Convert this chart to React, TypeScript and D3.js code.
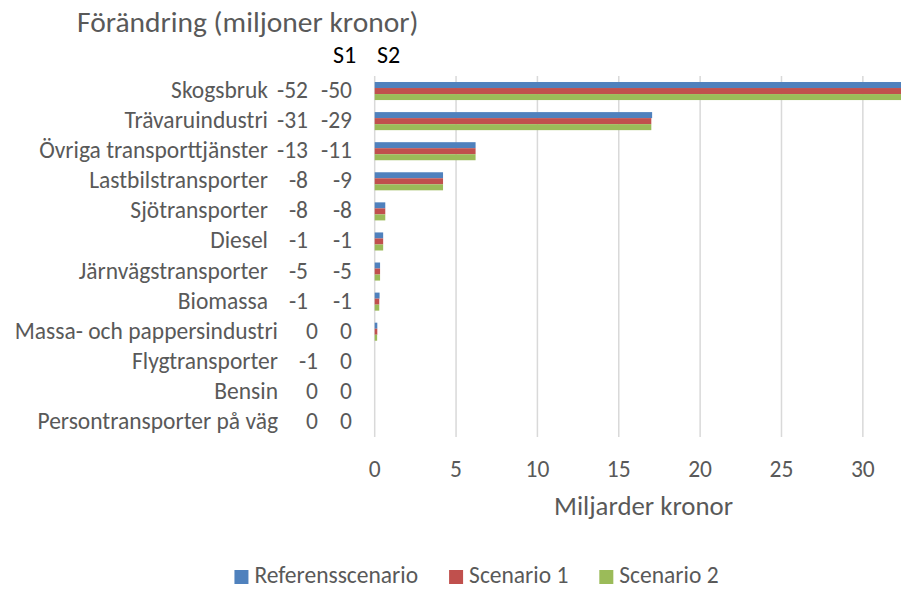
import React, { useRef, useEffect } from "react";
import * as d3 from "d3";

// kategorier och förändring (miljoner kronor) för S1 och S2
const categories = [
  "Skogsbruk",
  "Trävaruindustri",
  "Övriga transporttjänster",
  "Lastbilstransporter",
  "Sjötransporter",
  "Diesel",
  "Järnvägstransporter",
  "Biomassa",
  "Massa- och pappersindustri",
  "Flygtransporter",
  "Bensin",
  "Persontransporter på väg",
];
const changeS1 = [-52, -31, -13, -8, -8, -1, -5, -1, 0, -1, 0, 0];
const changeS2 = [-50, -29, -11, -9, -8, -1, -5, -1, 0, 0, 0, 0];

// miljarder kronor per scenario
const referens = [34, 17.05, 6.2, 4.2, 0.65, 0.52, 0.33, 0.3, 0.16, 0, 0, 0];
const scenario1 = [34, 17.0, 6.2, 4.2, 0.65, 0.52, 0.33, 0.28, 0.16, 0, 0, 0];
const scenario2 = [34, 17.0, 6.2, 4.2, 0.65, 0.52, 0.33, 0.28, 0.15, 0, 0, 0];

const seriesNames = ["Referensscenario", "Scenario 1", "Scenario 2"];
const seriesColors = ["#4F81BD", "#C0504D", "#9BBB59"];
const xTicks = [0, 5, 10, 15, 20, 25, 30, 35];

const FONT = "Carlito, Calibri, Lato, sans-serif";
const GREY = "#595959";

export default function App() {
  const svgRef = useRef<SVGSVGElement>(null);

  useEffect(() => {
    const svg = d3.select(svgRef.current);
    svg.selectAll("*").remove();

    const width = 901;
    const height = 589;
    const plot = { left: 374.7, right: 944.2, top: 76, bottom: 437 };

    const x = d3.scaleLinear().domain([0, 35]).range([plot.left, plot.right]);
    const y = d3
      .scaleBand<string>()
      .domain(categories)
      .range([plot.top, plot.bottom])
      .paddingInner(0.4)
      .paddingOuter(0.2);
    const sub = d3
      .scaleBand<number>()
      .domain([0, 1, 2])
      .range([0, y.bandwidth()]);

    const series = [referens, scenario1, scenario2];

    svg.attr("width", width).attr("height", height).style("font-family", FONT);

    // rutnät
    svg
      .append("g")
      .selectAll("line")
      .data(xTicks)
      .join("line")
      .attr("x1", (d) => x(d))
      .attr("x2", (d) => x(d))
      .attr("y1", plot.top)
      .attr("y2", plot.bottom)
      .attr("stroke", "#D9D9D9")
      .attr("stroke-width", 1.5);

    // staplar
    series.forEach((values, s) => {
      svg
        .append("g")
        .selectAll("rect")
        .data(values)
        .join("rect")
        .attr("x", x(0))
        .attr("y", (_, i) => (y(categories[i]) as number) + (sub(s) as number))
        .attr("width", (d) => Math.max(0, x(d) - x(0)))
        .attr("height", sub.bandwidth())
        .attr("fill", seriesColors[s]);
    });

    // x-axelns etiketter (bara de som syns i bilden)
    svg
      .append("g")
      .selectAll("text")
      .data(xTicks.filter((d) => x(d) + 15 < width))
      .join("text")
      .attr("x", (d) => x(d))
      .attr("y", 477)
      .attr("text-anchor", "middle")
      .attr("fill", GREY)
      .style("font-size", "23.5px")
      .text((d) => d);

    // kategorietiketter med S1 / S2
    const labels = svg.append("g").style("font-size", "23.5px").attr("fill", GREY);
    categories.forEach((c, i) => {
      const yc = (y(c) as number) + y.bandwidth() / 2 + 7;
      const shift = changeS2[i] < 0 ? 0 : 10;
      labels
        .append("text")
        .attr("x", 268 + shift)
        .attr("y", yc)
        .attr("text-anchor", "end")
        .text(c);
      labels
        .append("text")
        .attr("x", 308 + shift)
        .attr("y", yc)
        .attr("text-anchor", "end")
        .text(changeS1[i]);
      labels
        .append("text")
        .attr("x", 352)
        .attr("y", yc)
        .attr("text-anchor", "end")
        .text(changeS2[i]);
    });

    // rubriker
    svg
      .append("text")
      .attr("x", 77)
      .attr("y", 32)
      .attr("fill", GREY)
      .style("font-size", "29.5px")
      .text("Förändring (miljoner kronor)");
    svg
      .append("text")
      .attr("x", 333)
      .attr("y", 63)
      .attr("fill", "#000")
      .style("font-size", "24px")
      .text("S1");
    svg
      .append("text")
      .attr("x", 377)
      .attr("y", 63)
      .attr("fill", "#000")
      .style("font-size", "24px")
      .text("S2");
    svg
      .append("text")
      .attr("x", 643.5)
      .attr("y", 515)
      .attr("text-anchor", "middle")
      .attr("fill", GREY)
      .style("font-size", "26.8px")
      .text("Miljarder kronor");

    // förklaring
    const legend = svg.append("g");
    const items = seriesNames.map((name, i) => {
      const g = legend.append("g");
      g.append("rect")
        .attr("width", 14)
        .attr("height", 14)
        .attr("y", 570)
        .attr("fill", seriesColors[i]);
      const t = g
        .append("text")
        .attr("x", 20)
        .attr("y", 583)
        .attr("fill", GREY)
        .style("font-size", "23.5px")
        .text(name);
      const w = 20 + (t.node() as SVGTextElement).getComputedTextLength();
      return { g, w };
    });
    const gap = 31;
    const total = d3.sum(items, (d) => d.w) + gap * (items.length - 1);
    let cx = 476.5 - total / 2;
    items.forEach(({ g, w }) => {
      g.attr("transform", `translate(${cx},0)`);
      cx += w + gap;
    });
  }, []);

  return (
    <div style={{ position: "absolute", left: 0, top: 0, width: 901, height: 589 }}>
      <svg ref={svgRef} style={{ display: "block" }} />
    </div>
  );
}
